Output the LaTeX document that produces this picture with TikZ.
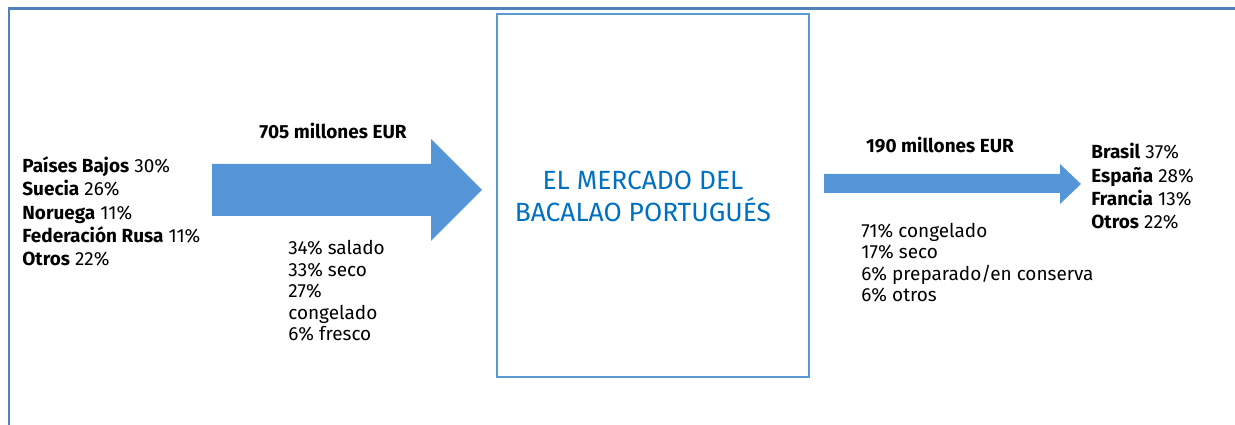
\documentclass[tikz,border=0pt]{standalone}
\usepackage{fontspec}
\setmainfont{Fira Sans}
\begin{document}
\begin{tikzpicture}[x=0.02cm, y=-0.02cm, font=\fontsize{10.8}{13.3}\selectfont]

	% ==========================================
	% 1. COLOURS
	% ==========================================
	\definecolor{framecol}{RGB}{79, 129, 189}   % outer frame
	\definecolor{boxcol}{RGB}{91, 155, 213}     % market box border
	\definecolor{arrowcol}{RGB}{84, 150, 216}   % block arrows
	\definecolor{titlecol}{RGB}{0, 112, 192}    % market title

	\tikzset{
		list/.style={anchor=base west, align=left, inner sep=0pt},
		value/.style={anchor=base, inner sep=0pt, font=\fontsize{10.8}{13.3}\selectfont\bfseries}
	}

	\useasboundingbox (0,0) rectangle (1235,425);

	% ==========================================
	% 2. FRAME
	% ==========================================
	\draw[framecol, line width=1.7pt] (9,425) -- (9,8.5) -- (1235,8.5);

	% ==========================================
	% 3. MARKET BOX
	% ==========================================
	\draw[boxcol, line width=1.2pt] (497,14) rectangle (809,377);
	\node[text=titlecol, align=center, font=\fontsize{15}{18.5}\selectfont] (market) at (643,196.5)
		{EL MERCADO DEL\\BACALAO PORTUGUÉS};

	% ==========================================
	% 4. ARROWS
	% ==========================================
	% Import arrow
	\fill[arrowcol] (212,164) -- (431,164) -- (431,139) -- (482,190)
		-- (431,241) -- (431,216) -- (212,216) -- cycle;
	% Export arrow
	\fill[arrowcol] (824,174) -- (1060,174) -- (1060,164) -- (1081,184)
		-- (1060,204) -- (1060,193) -- (824,193) -- cycle;

	% ==========================================
	% 5. TEXTS (anchored at the baseline of the last line)
	% ==========================================
	% Origins
	\node[list] (origins) at (22,266)
		{\textbf{Países Bajos} 30\%\\\textbf{Suecia} 26\%\\\textbf{Noruega} 11\%\\\textbf{Federación Rusa} 11\%\\\textbf{Otros} 22\%};

	% Import value and mix
	\node[value] (importval) at (333,139) {705 millones EUR};
	\node[list, font=\fontsize{10.8}{12.3}\selectfont] (importmix) at (288,341)
		{34\% salado\\33\% seco\\27\%\\congelado\\6\% fresco};

	% Export value and mix
	\node[value] (exportval) at (940,153) {190 millones EUR};
	\node[list, font=\fontsize{10.8}{12.3}\selectfont] (exportmix) at (861,302)
		{71\% congelado\\17\% seco\\6\% preparado/en conserva\\6\% otros};

	% Destinations
	\node[list] (destinations) at (1091,229)
		{\textbf{Brasil} 37\%\\\textbf{España} 28\%\\\textbf{Francia} 13\%\\\textbf{Otros} 22\%};

\end{tikzpicture}
\end{document}
